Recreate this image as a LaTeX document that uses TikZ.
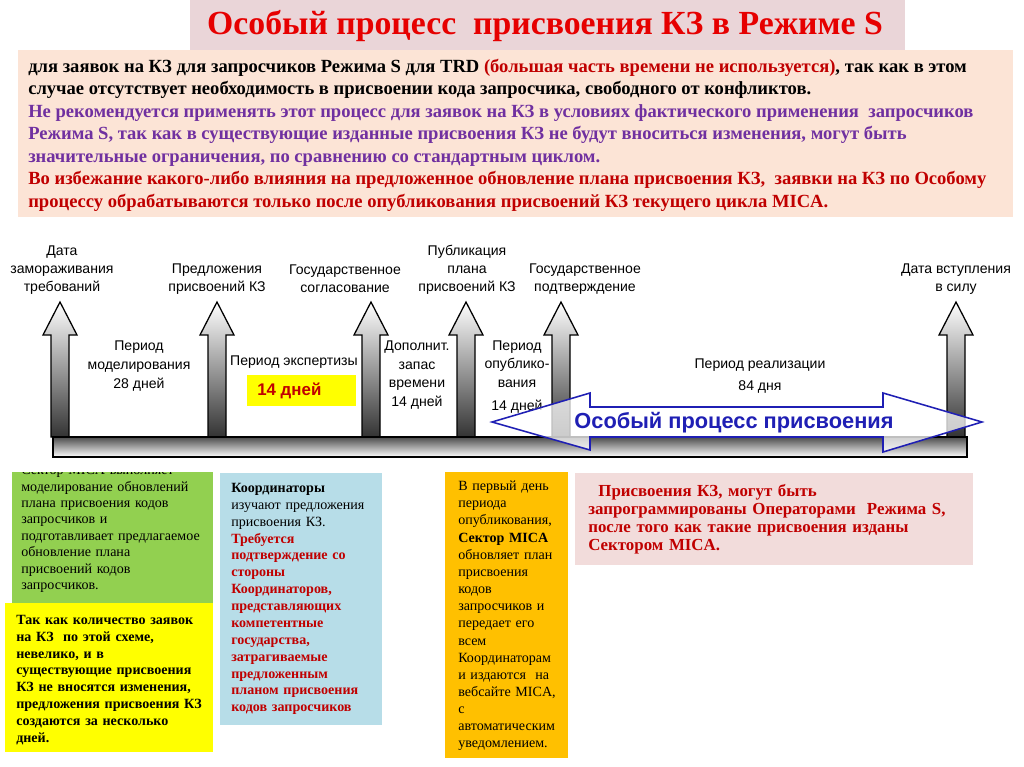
\documentclass[tikz,border=0pt]{standalone}
\usepackage{fontspec}
\setmainfont{Liberation Serif}
\setsansfont{Liberation Sans}
\usepackage{xcolor}
\usetikzlibrary{positioning,calc}

\definecolor{titlered}{HTML}{E60000}
\definecolor{darkred}{HTML}{C00000}
\definecolor{purpletxt}{HTML}{7030A0}
\definecolor{peach}{HTML}{FCE4D6}
\definecolor{titlepink}{HTML}{EAD5D8}
\definecolor{boxgreen}{HTML}{92D050}
\definecolor{boxyellow}{HTML}{FFFF00}
\definecolor{boxblue}{HTML}{B7DDE8}
\definecolor{boxorange}{HTML}{FFC000}
\definecolor{boxpink}{HTML}{F2DCDB}
\definecolor{procblue}{HTML}{1F1FB4}

\begin{document}
\begin{tikzpicture}[
  x=0.025cm, y=-0.025cm,
  every node/.style={inner sep=0pt},
  ttl/.style={font=\sffamily\fontsize{10}{12.8}\selectfont, align=center},
  per/.style={font=\sffamily\fontsize{10}{13.4}\selectfont, align=center},
  note/.style={anchor=west, align=left, text width=6cm},
  upshaft/.style={draw=black, line width=0.9pt, top color=white, bottom color=black!80},
]
  \useasboundingbox (0,0) rectangle (1024,767);
  \fill[white] (0,0) rectangle (1024,767);

  % title and introduction
  \fill[titlepink] (190,0) rectangle (905,50);
  \node[font=\bfseries\fontsize{24}{28}\selectfont, text=titlered] (title) at (545,26)
    {Особый процесс\ \ присвоения КЗ в Режиме S};

  \fill[peach] (18,50) rectangle (1013,217);
  \node[anchor=west, align=left, font=\bfseries\fontsize{13.2}{16}\selectfont] (intro) at (28,135)
    {для заявок на КЗ для запросчиков Режима S для TRD \textcolor{darkred}{(большая часть времени не используется)}, так как в этом\\
     случае отсутствует необходимость в присвоении кода запросчика, свободного от конфликтов.\\
     \textcolor{purpletxt}{Не рекомендуется применять этот процесс для заявок на КЗ в условиях фактического применения\ \ запросчиков}\\
     \textcolor{purpletxt}{Режима S, так как в существующие изданные присвоения КЗ не будут вноситься изменения, могут быть}\\
     \textcolor{purpletxt}{значительные ограничения, по сравнению со стандартным циклом.}\\
     \textcolor{darkred}{Во избежание какого-либо влияния на предложенное обновление плана присвоения КЗ,\ \ заявки на КЗ по Особому}\\
     \textcolor{darkred}{процессу обрабатываются только после опубликования присвоений КЗ текущего цикла MICA.}};

  % timeline
  \foreach \cx in {60,217,371,466,561,956}
    \path[upshaft] (\cx-9,437) -- (\cx-9,335) -- (\cx-17,335) -- (\cx,302)
      -- (\cx+17,335) -- (\cx+9,335) -- (\cx+9,437) -- cycle;
  \path[draw=black, line width=0.9pt, top color=black!70, middle color=black!12, bottom color=white]
    (53,437) rectangle (967,457);

  \node[ttl] (freeze) at (62,270) {Дата\\замораживания\\требований};
  \node[ttl] (prop) at (217,279) {Предложения\\присвоений КЗ};
  \node[ttl] (agree) at (345,279) {Государственное\\согласование};
  \node[ttl] (publ) at (467,270) {Публикация\\плана\\присвоений КЗ};
  \node[ttl] (confirm) at (585,279) {Государственное\\подтверждение};
  \node[ttl] (effect) at (956,279) {Дата вступления\\в силу};

  \node[per] (model) at (139,366) {Период\\моделирования\\28 дней};
  \node[per] (expert) at (294,362) {Период экспертизы};
  \fill[boxyellow] (247,375) rectangle (356,406);
  \node[anchor=west, font=\sffamily\bfseries\fontsize{12}{14}\selectfont, text=darkred] (days) at (257,391) {14 дней};
  \node[per] (reserve) at (417,375) {Дополнит.\\запас\\времени\\14 дней};
  \node[per] (pubper) at (517,377) {Период\\опублико-\\вания\\[3pt]14 дней};
  \node[per] (impl) at (760,376) {Период реализации\\[2pt]84 дня};

  % special process double arrow
  \path[draw=procblue, line width=1.1pt, fill=white, fill opacity=0.75]
    (492,422) -- (590,393) -- (590,407) -- (883,407) -- (883,393) -- (982,422)
    -- (883,452) -- (883,437) -- (590,437) -- (590,450) -- cycle;
  \node[font=\sffamily\bfseries\fontsize{15.5}{18}\selectfont, text=procblue] (spec) at (734,423)
    {Особый процесс присвоения};

  % notes below the timeline
  \begin{scope}
    \clip (12,472) rectangle (213,603);
    \fill[boxgreen] (12,472) rectangle (213,603);
    \node[note, font=\fontsize{10}{11.7}\selectfont] (sector) at (21,529)
      {Сектор MICA выполняет\\моделирование обновлений\\плана присвоения кодов\\запросчиков и\\подготавливает предлагаемое\\обновление плана\\присвоений кодов\\запросчиков.};
  \end{scope}

  \fill[boxyellow] (5,603) rectangle (213,752);
  \node[note, font=\bfseries\fontsize{10}{12}\selectfont] (few) at (16,680)
    {Так как количество заявок\\на КЗ\ \ по этой схеме,\\невелико, и в\\существующие присвоения\\КЗ не вносятся изменения,\\предложения присвоения КЗ\\создаются за несколько\\дней.};

  \fill[boxblue] (220,473) rectangle (382,725);
  \node[note, font=\fontsize{10}{12}\selectfont] (coord) at (231,599)
    {\textbf{Координаторы}\\изучают предложения\\присвоения КЗ.\\
     {\color{darkred}\bfseries Требуется\\подтверждение со\\стороны\\Координаторов,\\представляющих\\компетентные\\государства,\\затрагиваемые\\предложенным\\планом присвоения\\кодов запросчиков}};

  \fill[boxorange] (445,472) rectangle (568,758);
  \node[note, font=\fontsize{10}{12.2}\selectfont] (firstday) at (458,616)
    {В первый день\\периода\\опубликования,\\\textbf{Сектор MICA}\\обновляет план\\присвоения\\кодов\\запросчиков и\\передает его\\всем\\Координаторам\\и издаются\ \ на\\вебсайте MICA,\\с\\автоматическим\\уведомлением.};

  \fill[boxpink] (575,473) rectangle (973,565);
  \node[note, text width=12cm, font=\bfseries\fontsize{12}{12.8}\selectfont, text=darkred] (oper) at (588,519)
    {\hspace*{0.6em}Присвоения КЗ, могут быть\\запрограммированы Операторами\ \ Режима S,\\после того как такие присвоения изданы\\Сектором MICA.};
\end{tikzpicture}
\end{document}
